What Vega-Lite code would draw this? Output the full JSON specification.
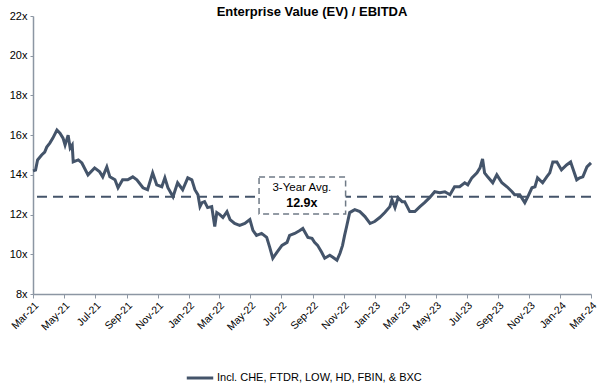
{
  "$schema": "https://vega.github.io/schema/vega-lite/v6.json",
  "width": 558,
  "height": 278,
  "autosize": {"type": "none"},
  "padding": {"left": 33, "top": 16, "right": 14, "bottom": 91},
  "background": "white",
  "config": {
    "view": {"stroke": null},
    "font": "Liberation Sans",
    "axisX": {
      "title": null,
      "format": "%b-%y",
      "labelAngle": -45,
      "labelFontSize": 10.5,
      "labelColor": "#000000",
      "domainColor": "#8c96a3",
      "domainWidth": 1.5,
      "tickColor": "#8c96a3",
      "tickSize": 4,
      "grid": false,
      "labelPadding": 2,
      "labelOverlap": false
    },
    "axisY": {
      "title": null,
      "labelFontSize": 11,
      "labelColor": "#000000",
      "domainColor": "#8c96a3",
      "domainWidth": 1.5,
      "tickColor": "#8c96a3",
      "tickSize": 3,
      "grid": false,
      "labelPadding": 3,
      "labelOverlap": false,
      "labelFlush": false,
      "labelBound": false
    }
  },
  "title": {
    "text": "Enterprise Value (EV) / EBITDA",
    "fontSize": 13,
    "fontWeight": "bold",
    "color": "#000000",
    "anchor": "middle",
    "offset": 0,
    "dy": 9
  },
  "datasets": {
    "ev": [
      {"date": "2021-03-01", "ev": 14.2},
      {"date": "2021-03-06", "ev": 14.24},
      {"date": "2021-03-10", "ev": 14.75},
      {"date": "2021-03-18", "ev": 15.0},
      {"date": "2021-03-24", "ev": 15.15},
      {"date": "2021-03-28", "ev": 15.4},
      {"date": "2021-04-03", "ev": 15.6},
      {"date": "2021-04-09", "ev": 15.85},
      {"date": "2021-04-17", "ev": 16.26},
      {"date": "2021-04-23", "ev": 16.1},
      {"date": "2021-04-29", "ev": 15.85},
      {"date": "2021-05-03", "ev": 15.5},
      {"date": "2021-05-09", "ev": 16.0},
      {"date": "2021-05-13", "ev": 15.35},
      {"date": "2021-05-17", "ev": 15.5},
      {"date": "2021-05-19", "ev": 14.65},
      {"date": "2021-05-29", "ev": 14.75},
      {"date": "2021-06-05", "ev": 14.6},
      {"date": "2021-06-17", "ev": 14.0},
      {"date": "2021-06-30", "ev": 14.35},
      {"date": "2021-07-10", "ev": 14.15},
      {"date": "2021-07-16", "ev": 13.9},
      {"date": "2021-07-24", "ev": 14.4},
      {"date": "2021-07-30", "ev": 13.9},
      {"date": "2021-08-09", "ev": 13.75},
      {"date": "2021-08-15", "ev": 13.35},
      {"date": "2021-08-24", "ev": 13.75},
      {"date": "2021-09-03", "ev": 13.75},
      {"date": "2021-09-13", "ev": 13.9},
      {"date": "2021-09-21", "ev": 13.75},
      {"date": "2021-10-03", "ev": 13.35},
      {"date": "2021-10-12", "ev": 13.25},
      {"date": "2021-10-22", "ev": 14.1},
      {"date": "2021-10-30", "ev": 13.5},
      {"date": "2021-11-09", "ev": 13.4},
      {"date": "2021-11-15", "ev": 13.85},
      {"date": "2021-11-21", "ev": 13.35},
      {"date": "2021-12-01", "ev": 12.9},
      {"date": "2021-12-10", "ev": 13.6},
      {"date": "2021-12-20", "ev": 13.25},
      {"date": "2021-12-30", "ev": 13.85},
      {"date": "2022-01-07", "ev": 13.75},
      {"date": "2022-01-13", "ev": 13.25},
      {"date": "2022-01-19", "ev": 13.0},
      {"date": "2022-01-23", "ev": 12.4},
      {"date": "2022-01-27", "ev": 12.6},
      {"date": "2022-02-01", "ev": 12.65},
      {"date": "2022-02-07", "ev": 12.35},
      {"date": "2022-02-15", "ev": 12.4},
      {"date": "2022-02-21", "ev": 11.4},
      {"date": "2022-02-25", "ev": 12.1},
      {"date": "2022-03-03", "ev": 12.0},
      {"date": "2022-03-09", "ev": 11.85},
      {"date": "2022-03-17", "ev": 12.15},
      {"date": "2022-03-23", "ev": 11.75},
      {"date": "2022-04-01", "ev": 11.55},
      {"date": "2022-04-11", "ev": 11.45},
      {"date": "2022-04-21", "ev": 11.55},
      {"date": "2022-05-01", "ev": 11.75},
      {"date": "2022-05-07", "ev": 11.2},
      {"date": "2022-05-14", "ev": 10.95},
      {"date": "2022-05-24", "ev": 11.05},
      {"date": "2022-06-03", "ev": 10.85},
      {"date": "2022-06-09", "ev": 10.35},
      {"date": "2022-06-15", "ev": 9.8},
      {"date": "2022-06-23", "ev": 10.1},
      {"date": "2022-07-03", "ev": 10.45},
      {"date": "2022-07-13", "ev": 10.6},
      {"date": "2022-07-18", "ev": 10.95},
      {"date": "2022-07-28", "ev": 11.05},
      {"date": "2022-08-07", "ev": 11.2},
      {"date": "2022-08-13", "ev": 11.3},
      {"date": "2022-08-23", "ev": 10.85},
      {"date": "2022-08-31", "ev": 10.8},
      {"date": "2022-09-05", "ev": 10.6},
      {"date": "2022-09-11", "ev": 10.45},
      {"date": "2022-09-19", "ev": 10.1},
      {"date": "2022-09-25", "ev": 9.8},
      {"date": "2022-10-05", "ev": 9.95},
      {"date": "2022-10-11", "ev": 9.85},
      {"date": "2022-10-19", "ev": 9.7},
      {"date": "2022-10-25", "ev": 10.05},
      {"date": "2022-10-30", "ev": 10.45},
      {"date": "2022-11-03", "ev": 10.95},
      {"date": "2022-11-07", "ev": 11.4},
      {"date": "2022-11-13", "ev": 12.1},
      {"date": "2022-11-23", "ev": 12.25},
      {"date": "2022-12-03", "ev": 12.15},
      {"date": "2022-12-13", "ev": 11.9},
      {"date": "2022-12-23", "ev": 11.55},
      {"date": "2023-01-01", "ev": 11.65},
      {"date": "2023-01-11", "ev": 11.85},
      {"date": "2023-01-21", "ev": 12.1},
      {"date": "2023-01-31", "ev": 12.4},
      {"date": "2023-02-04", "ev": 12.75},
      {"date": "2023-02-10", "ev": 12.35},
      {"date": "2023-02-16", "ev": 12.85},
      {"date": "2023-02-24", "ev": 12.65},
      {"date": "2023-03-01", "ev": 12.65},
      {"date": "2023-03-11", "ev": 12.15},
      {"date": "2023-03-21", "ev": 12.15},
      {"date": "2023-03-31", "ev": 12.4},
      {"date": "2023-04-09", "ev": 12.6},
      {"date": "2023-04-19", "ev": 12.85},
      {"date": "2023-04-29", "ev": 13.15},
      {"date": "2023-05-09", "ev": 13.1},
      {"date": "2023-05-19", "ev": 13.15},
      {"date": "2023-05-29", "ev": 13.0},
      {"date": "2023-06-07", "ev": 13.4},
      {"date": "2023-06-17", "ev": 13.4},
      {"date": "2023-06-27", "ev": 13.6},
      {"date": "2023-07-03", "ev": 13.5},
      {"date": "2023-07-11", "ev": 13.85},
      {"date": "2023-07-21", "ev": 14.1},
      {"date": "2023-07-27", "ev": 14.35},
      {"date": "2023-08-01", "ev": 14.8},
      {"date": "2023-08-05", "ev": 14.1},
      {"date": "2023-08-11", "ev": 13.9},
      {"date": "2023-08-21", "ev": 13.6},
      {"date": "2023-08-29", "ev": 14.0},
      {"date": "2023-09-08", "ev": 13.6},
      {"date": "2023-09-18", "ev": 13.4},
      {"date": "2023-09-28", "ev": 13.15},
      {"date": "2023-10-03", "ev": 13.0},
      {"date": "2023-10-13", "ev": 13.0},
      {"date": "2023-10-23", "ev": 12.6},
      {"date": "2023-10-29", "ev": 12.9},
      {"date": "2023-11-06", "ev": 13.35},
      {"date": "2023-11-12", "ev": 13.4},
      {"date": "2023-11-17", "ev": 13.85},
      {"date": "2023-11-27", "ev": 13.6},
      {"date": "2023-12-05", "ev": 13.9},
      {"date": "2023-12-11", "ev": 14.1},
      {"date": "2023-12-17", "ev": 14.65},
      {"date": "2023-12-25", "ev": 14.65},
      {"date": "2024-01-03", "ev": 14.25},
      {"date": "2024-01-13", "ev": 14.5},
      {"date": "2024-01-21", "ev": 14.65},
      {"date": "2024-01-25", "ev": 14.35},
      {"date": "2024-02-02", "ev": 13.75},
      {"date": "2024-02-08", "ev": 13.85},
      {"date": "2024-02-14", "ev": 13.9},
      {"date": "2024-02-22", "ev": 14.4},
      {"date": "2024-03-01", "ev": 14.6}
    ],
    "avg": [{"ev": 12.9}],
    "box": [
      {"date": "2022-05-19", "end": "2022-11-05", "ev": 12.03, "high": 13.89}
    ],
    "label1": [{"date": "2022-08-11", "ev": 13.34, "label": "3-Year Avg."}],
    "label2": [{"date": "2022-08-11", "ev": 12.58, "label": "12.9x"}]
  },
  "encoding": {
    "x": {
      "field": "date",
      "type": "temporal",
      "scale": {
        "type": "utc",
        "domain": [
          {"year": 2021, "month": 3, "date": 1, "utc": true},
          {"year": 2024, "month": 3, "date": 1, "utc": true}
        ],
        "nice": false
      },
      "axis": {
        "tickCount": {"interval": "month", "step": 2}
      }
    },
    "y": {
      "field": "ev",
      "type": "quantitative",
      "scale": {"domain": [8, 22], "nice": false, "zero": false},
      "axis": {
        "values": [8, 10, 12, 14, 16, 18, 20, 22],
        "labelExpr": "datum.value + 'x'"
      }
    }
  },
  "layer": [
    {
      "data": {"name": "ev"},
      "mark": {"type": "line", "strokeWidth": 3, "interpolate": "linear"},
      "encoding": {
        "color": {
          "datum": "Incl. CHE, FTDR, LOW, HD, FBIN, & BXC",
          "type": "nominal",
          "scale": {"range": ["#44546A"]},
          "legend": {
            "title": null,
            "orient": "none",
            "legendX": 152,
            "legendY": 347,
            "symbolType": "stroke",
            "symbolStrokeWidth": 3,
            "symbolSize": 700,
            "labelFontSize": 11,
            "labelColor": "#000000",
            "labelOffset": 2,
            "labelLimit": 400
          }
        }
      }
    },
    {
      "data": {"name": "avg"},
      "mark": {"type": "rule", "color": "#44546A", "strokeWidth": 2, "strokeDash": [10, 6]},
      "encoding": {"x": null}
    },
    {
      "data": {"name": "box"},
      "mark": {"type": "rect", "fill": "white", "stroke": "#6f7a86", "strokeWidth": 1.5, "strokeDash": [6, 4]},
      "encoding": {
        "x2": {"field": "end"},
        "y2": {"field": "high"}
      }
    },
    {
      "data": {"name": "label1"},
      "mark": {"type": "text", "fontSize": 11.5, "color": "#000000", "align": "center", "baseline": "middle"},
      "encoding": {
        "text": {"field": "label"}
      }
    },
    {
      "data": {"name": "label2"},
      "mark": {"type": "text", "fontSize": 12.5, "fontWeight": "bold", "color": "#000000", "align": "center", "baseline": "middle"},
      "encoding": {
        "text": {"field": "label"}
      }
    }
  ]
}
